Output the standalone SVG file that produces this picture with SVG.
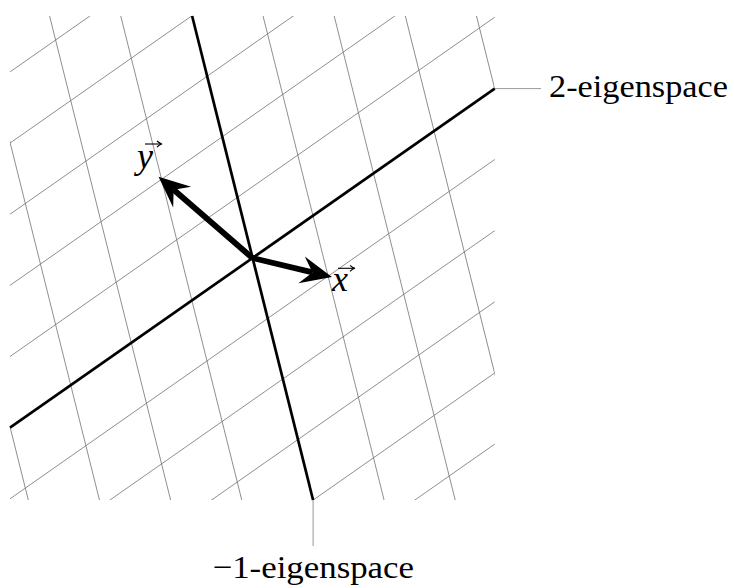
<svg xmlns="http://www.w3.org/2000/svg" width="734" height="588" viewBox="0 0 734 588">
  <style>
    .grid line { stroke: #7a7a7a; stroke-width: 0.85; fill: none; }
    .eigen { stroke: #000; stroke-width: 2.7; fill: none; stroke-linecap: butt; }
    .leader { stroke: #8c8c8c; stroke-width: 0.9; fill: none; }
    .vec { stroke: #000; stroke-width: 5.8; fill: none; marker-end: url(#stealth); }
    .lbl { font-family: "Liberation Serif", "Times New Roman", serif; font-size: 32px; fill: #000; }
    .var { font-family: "Liberation Serif", "Times New Roman", serif; font-style: italic; font-size: 36px; fill: #000; }
    .acc { stroke: #000; stroke-width: 1.1; fill: none; marker-end: url(#acchead); }
  </style>
  <defs>
    <clipPath id="box">
      <rect x="10" y="16" width="484.7" height="484"/>
    </clipPath>
    <marker id="stealth" markerUnits="userSpaceOnUse" markerWidth="40" markerHeight="30" refX="0" refY="0" orient="auto" overflow="visible" viewBox="-10 -12 30 24">
      <path d="M16,0 L-9,-11 L0,0 L-9,11 Z" fill="#000"/>
    </marker>
    <marker id="acchead" markerUnits="userSpaceOnUse" markerWidth="10" markerHeight="10" refX="0" refY="0" orient="auto" overflow="visible" viewBox="-6 -4 10 8">
      <path d="M-4,-3 Q-1.5,-0.6 1,0 Q-1.5,0.6 -4,3" fill="none" stroke="#000" stroke-width="1.1"/>
    </marker>
  </defs>
  <rect width="734" height="588" fill="#fff"/>

  <g id="grid" class="grid" clip-path="url(#box)">
    <line x1="-96.69" y1="0" x2="33.31" y2="520"/>
    <line x1="-25.54" y1="0" x2="104.46" y2="520"/>
    <line x1="45.6" y1="0" x2="175.61" y2="520"/>
    <line x1="116.75" y1="0" x2="246.75" y2="520"/>
    <line x1="259.05" y1="0" x2="389.05" y2="520"/>
    <line x1="330.2" y1="0" x2="460.2" y2="520"/>
    <line x1="401.34" y1="0" x2="531.34" y2="520"/>
    <line x1="472.49" y1="0" x2="602.49" y2="520"/>
    <line x1="0" y1="78.94" x2="510" y2="-278.06"/>
    <line x1="0" y1="150.09" x2="510" y2="-206.91"/>
    <line x1="0" y1="221.24" x2="510" y2="-135.76"/>
    <line x1="0" y1="292.38" x2="510" y2="-64.62"/>
    <line x1="0" y1="363.53" x2="510" y2="6.53"/>
    <line x1="0" y1="505.83" x2="510" y2="148.83"/>
    <line x1="0" y1="576.98" x2="510" y2="219.98"/>
    <line x1="0" y1="648.12" x2="510" y2="291.12"/>
    <line x1="0" y1="719.27" x2="510" y2="362.27"/>
    <line x1="0" y1="790.42" x2="510" y2="433.42"/>
  </g>

  <g id="connectors">
    <line class="leader" x1="494.7" y1="88.6" x2="541" y2="88.6"/>
    <line class="leader" x1="313.1" y1="500" x2="313.1" y2="546"/>
  </g>

  <g id="eigenspace-2">
    <line class="eigen" x1="10" y1="427.7" x2="494.7" y2="88.6"/>
    <text class="lbl" x="549" y="96.5" textLength="179" lengthAdjust="spacingAndGlyphs">2-eigenspace</text>
  </g>

  <g id="eigenspace-minus1">
    <line class="eigen" x1="192.1" y1="16" x2="313.1" y2="500"/>
    <text class="lbl" x="212.5" y="577.5" textLength="201.5" lengthAdjust="spacingAndGlyphs">−1-eigenspace</text>
  </g>

  <g id="vector-x">
    <line class="vec" x1="252.4" y1="258" x2="312.53" y2="272.43"/>
    <text class="var" x="332" y="291">x</text>
    <line class="acc" x1="338" y1="268.3" x2="354" y2="268.3"/>
  </g>

  <g id="vector-y">
    <line class="vec" x1="252.4" y1="258" x2="173.66" y2="189.77"/>
    <text class="var" x="137" y="167.5">y</text>
    <line class="acc" x1="145" y1="144" x2="161" y2="144"/>
  </g>
</svg>
